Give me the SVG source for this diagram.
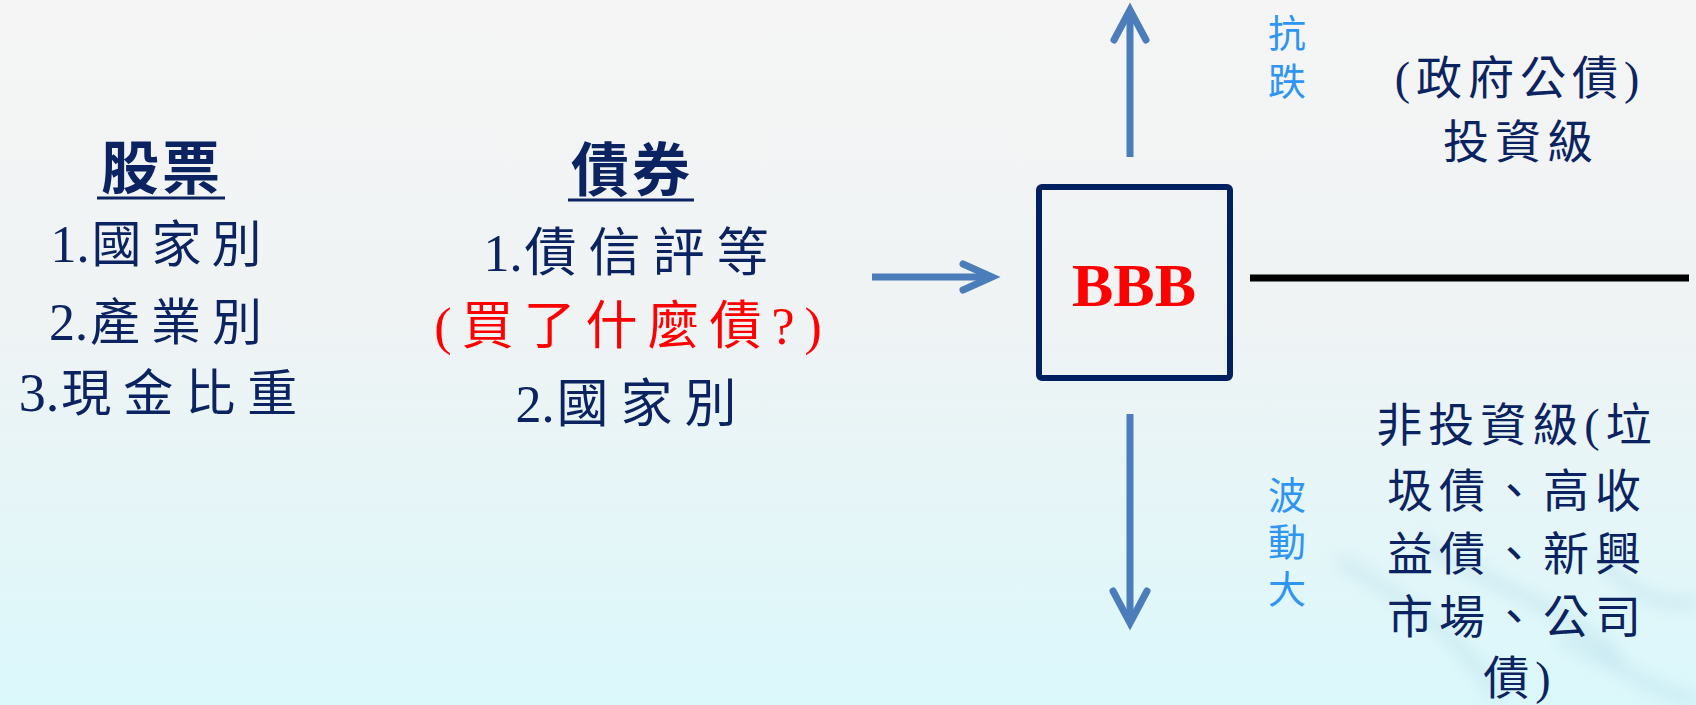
<svg xmlns="http://www.w3.org/2000/svg" width="1696" height="705" viewBox="0 0 1696 705">
<defs>
<linearGradient id="bg" x1="0" y1="0" x2="0" y2="1">
<stop offset="0" stop-color="#f5f5f5"/>
<stop offset="0.45" stop-color="#eff3f4"/>
<stop offset="1" stop-color="#dbf8fb"/>
</linearGradient>
<filter id="blur" x="-20%" y="-20%" width="140%" height="140%"><feGaussianBlur stdDeviation="8"/></filter>
<style>
.navy{fill:#0b2461;font-family:"Liberation Serif","Noto Sans CJK TC",serif;}
.blue{fill:#2f95f2;font-family:"Noto Sans CJK TC",sans-serif;font-size:38px;writing-mode:vertical-rl;}
.arr{stroke:#4a7dba;stroke-width:7;fill:none;}
.head{stroke:#4a7dba;stroke-width:7;fill:none;stroke-linecap:round;stroke-linejoin:miter;}
</style>
</defs>
<rect width="1696" height="705" fill="url(#bg)"/>
<g opacity="0.35" filter="url(#blur)" fill="none" stroke="#9fcde0" stroke-width="10">
<path d="M1340 560 C1400 600 1450 620 1500 700"/>
<path d="M1420 540 C1470 580 1560 600 1620 660"/>
<path d="M1600 560 C1640 600 1670 610 1696 600"/>
<path d="M1560 640 C1600 650 1640 690 1696 700"/>
</g>

<g id="stocks">
<text class="navy" x="162" y="189" font-size="58" font-weight="bold" text-anchor="middle" letter-spacing="3">股票</text>
<line x1="97" y1="198" x2="225" y2="198" stroke="#0b2461" stroke-width="3"/>
<text class="navy" x="161" y="262" font-size="50" text-anchor="middle"><tspan font-size="52">1.</tspan><tspan dx="2" letter-spacing="10">國家別</tspan></text>
<text class="navy" x="161" y="340" font-size="50" text-anchor="middle"><tspan font-size="52">2.</tspan><tspan dx="2" letter-spacing="11">產業別</tspan></text>
<text class="navy" x="164" y="411" font-size="50" text-anchor="middle"><tspan font-size="54">3.</tspan><tspan dx="2" letter-spacing="12">現金比重</tspan></text>
</g>

<g id="bonds">
<text class="navy" x="632" y="191" font-size="58" font-weight="bold" text-anchor="middle" letter-spacing="3">債券</text>
<line x1="568" y1="200" x2="694" y2="200" stroke="#0b2461" stroke-width="3"/>
<text class="navy" x="632" y="271" font-size="52" text-anchor="middle"><tspan>1.</tspan><tspan dx="2" letter-spacing="12">債信評等</tspan></text>
<text x="633" y="344" font-size="52" text-anchor="middle" letter-spacing="10" fill="#ff0000" font-family="Liberation Serif, Noto Sans CJK TC, serif">(買了什麼債?)</text>
<text class="navy" x="632" y="422" font-size="52" text-anchor="middle"><tspan>2.</tspan><tspan dx="2" letter-spacing="12">國家別</tspan></text>
</g>

<g id="bbb">
<rect x="1039" y="187" width="191" height="191" rx="3" fill="none" stroke="#002060" stroke-width="6"/>
<text x="1134" y="306" font-size="62" font-weight="bold" text-anchor="middle" fill="#ff0000" font-family="Liberation Serif, serif">BBB</text>
</g>

<g id="invest">
<text class="navy" x="1520" y="94" font-size="46" text-anchor="middle" letter-spacing="6">(政府公債)</text>
<text class="navy" x="1521" y="158" font-size="46" text-anchor="middle" letter-spacing="6">投資級</text>
</g>

<g id="noninvest" class="navy" font-size="46" text-anchor="middle" letter-spacing="6">
<text x="1517" y="441">非投資級(垃</text>
<text x="1517" y="507">圾債、高收</text>
<text x="1517" y="570">益債、新興</text>
<text x="1517" y="633">市場、公司</text>
<text x="1520" y="694">債)</text>
</g>

<g id="labels">
<text class="blue" x="1287" y="14" letter-spacing="10">抗跌</text>
<text class="blue" x="1287" y="476" letter-spacing="9">波動大</text>
</g>

<g id="connectors">
<line class="arr" x1="872" y1="277" x2="988" y2="277"/>
<polyline class="head" points="963,264 992,277 963,290"/>
<line class="arr" x1="1130" y1="157" x2="1130" y2="14"/>
<polyline class="head" points="1114,40 1130,10 1146,40"/>
<line class="arr" x1="1130" y1="414" x2="1130" y2="620"/>
<polyline class="head" points="1113,591 1130,623 1147,591"/>
<line x1="1250" y1="278" x2="1689" y2="278" stroke="#000" stroke-width="7"/>
</g>
</svg>
